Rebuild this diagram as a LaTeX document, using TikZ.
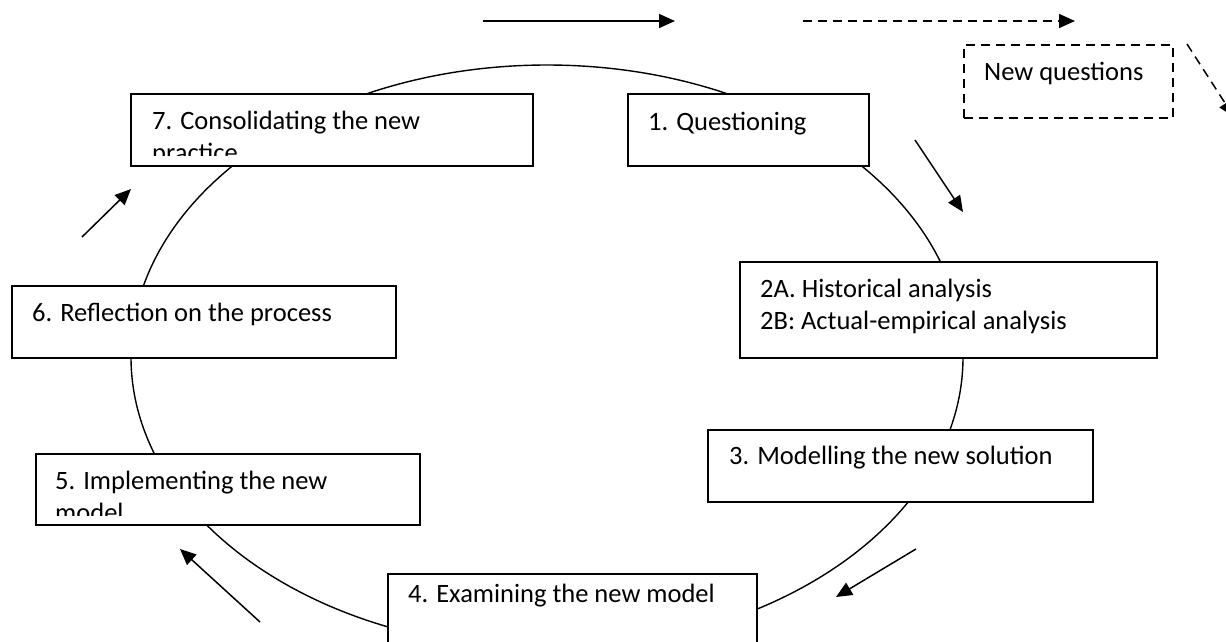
\documentclass[tikz,border=0pt]{standalone}
\usepackage{fontspec}
\setmainfont{Carlito}
\usetikzlibrary{arrows.meta}

\begin{document}
\begin{tikzpicture}[x=1pt, y=-1pt, >={Triangle[length=16pt, width=14pt]},
  stage/.style={draw, line width=1.5pt, fill=white, inner sep=0pt, anchor=north west},
  words/.style={font=\fontsize{26.5}{32}\selectfont, inner sep=0pt, anchor=base west, align=left},
  flow/.style={->, line width=1.5pt},
  hint/.style={->, line width=1.5pt, dash pattern=on 9pt off 6pt}]
  \useasboundingbox (0,0) rectangle (1226,641);
  \clip (0,0) rectangle (1226,641);
  % The cycle.
  \draw[line width=1.4pt] (547,357) ellipse (416 and 292);
  % Stages of the cycle.
  \node[stage, minimum width=402pt, minimum height=72pt] (s7) at (130,93) {};
  \node[stage, minimum width=241pt, minimum height=72pt] (s1) at (627,93) {};
  \node[stage, minimum width=417pt, minimum height=96pt] (s2) at (739,261) {};
  \node[stage, minimum width=385pt, minimum height=72pt] (s3) at (707,429) {};
  \node[stage, minimum width=369pt, minimum height=90pt] (s4) at (387,573) {};
  \node[stage, minimum width=384pt, minimum height=71pt] (s5) at (35,453) {};
  \node[stage, minimum width=384pt, minimum height=72pt] (s6) at (11,285) {};
  \node[stage, dash pattern=on 9pt off 6pt, minimum width=209pt, minimum height=73pt] (nq) at (963,44) {};
  % Texts; the long ones are cut at the inner margin.
  % (base of a two-line node is the last line)
  \begin{scope}
    \clip (s7.north west) rectangle ([yshift=11pt]s7.south east);
    \node[words] (t7) at ([shift={(22,68)}]s7.north west) {7. Consolidating the new\\practice};
  \end{scope}
  \begin{scope}
    \clip (s5.north west) rectangle ([yshift=10pt]s5.south east);
    \node[words] (t5) at ([shift={(20,68)}]s5.north west) {5. Implementing the new\\model};
  \end{scope}
  \node[words] (t1) at ([shift={(21,37)}]s1.north west) {1. Questioning};
  \node[words] (t2) at ([shift={(21,68)}]s2.north west) {2A. Historical analysis\\2B: Actual-empirical analysis};
  \node[words] (t3) at ([shift={(22,35)}]s3.north west) {3. Modelling the new solution};
  \node[words] (t4) at ([shift={(21,29)}]s4.north west) {4. Examining the new model};
  \node[words] (t6) at ([shift={(21,36)}]s6.north west) {6. Reflection on the process};
  \node[words] (tq) at ([shift={(21,36)}]nq.north west) {New questions};
  % Direction arrows.
  \coordinate (top-a) at (483,21);
  \coordinate (top-b) at (675,21);
  \coordinate (next-a) at (803,21);
  \coordinate (next-b) at (1075,21);
  \coordinate (back-a) at (1187,44);
  \coordinate (back-b) at (1234,117);
  \coordinate (d12-a) at (915,140);
  \coordinate (d12-b) at (963,212);
  \coordinate (d34-a) at (916,549);
  \coordinate (d34-b) at (836,597);
  \coordinate (d45-a) at (260,622);
  \coordinate (d45-b) at (180,549);
  \coordinate (d67-a) at (82,237);
  \coordinate (d67-b) at (131,189);
  \draw[flow] (top-a) -- (top-b);
  \draw[hint] (next-a) -- (next-b);
  \draw[hint] (back-a) -- (back-b);
  \draw[flow] (d12-a) -- (d12-b);
  \draw[flow] (d34-a) -- (d34-b);
  \draw[flow] (d45-a) -- (d45-b);
  \draw[flow] (d67-a) -- (d67-b);
\end{tikzpicture}
\end{document}
